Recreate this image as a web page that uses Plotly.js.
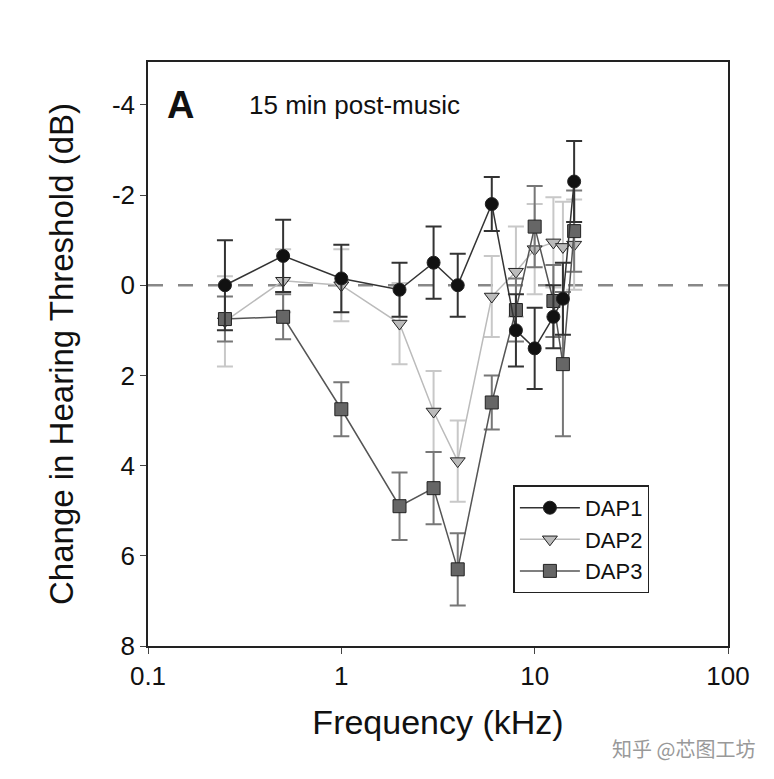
<!DOCTYPE html>
<html>
<head>
<meta charset="utf-8">
<script src="https://cdn.plot.ly/plotly-3.0.1.min.js"></script>
<style>body{margin:0;background:#fff}</style>
</head>
<body>
<div id="graph" style="width:774px;height:779px"></div>
<script>
let freq = [0.25, 0.5, 1, 2, 3, 4, 6, 8, 10, 12.5, 14, 16];
let dap1 = [0.0, -0.65, -0.15, 0.1, -0.5, 0.0, -1.8, 1.0, 1.4, 0.7, 0.3, -2.3];
let dap1Err = [1.0, 0.8, 0.75, 0.6, 0.8, 0.7, 0.6, 0.8, 0.9, 0.7, 0.8, 0.9];
let dap2 = [0.8, -0.1, 0.0, 0.85, 2.8, 3.9, 0.25, -0.3, -0.8, -0.95, -0.85, -0.9];
let dap2Err = [1.0, 0.7, 0.8, 0.9, 0.9, 0.9, 0.9, 1.0, 1.0, 1.0, 1.0, 1.0];
let dap3 = [0.75, 0.7, 2.75, 4.9, 4.5, 6.3, 2.6, 0.55, -1.3, 0.35, 1.75, -1.2];
let dap3Err = [0.5, 0.5, 0.6, 0.75, 0.8, 0.8, 0.6, 0.7, 0.9, 0.8, 1.6, 0.9];
let yTicks = [-4, -2, 0, 2, 4, 6, 8];
let yLabels = ["-4", "-2", "0", "2", "4", "6", "8"];

function series(y, err, name, mk, lineCol, mkCol, errCol) {
    return {
        x: freq,
        y: y,
        name: name,
        type: "scatter",
        mode: "lines+markers",
        line: {color: lineCol, width: 1.5},
        marker: {symbol: mk, size: 13, color: mkCol, line: {color: "#222", width: 1}},
        error_y: {type: "data", array: err, visible: true, color: errCol, thickness: 2, width: 8}
    };
}

let data = [
    series(dap2, dap2Err, "DAP2", "triangle-down", "#bbb", "#bbb", "#c8c8c8"),
    series(dap3, dap3Err, "DAP3", "square", "#555", "#666", "#777"),
    series(dap1, dap1Err, "DAP1", "circle", "#333", "#111", "#333")
];
data[0].legendrank = 2; data[1].legendrank = 3; data[2].legendrank = 1;

let layout = {
    width: 774,
    height: 779,
    margin: {l: 148, r: 46, t: 62, b: 133},
    font: {family: "Liberation Sans, Arial", color: "#111"},
    showlegend: true,
    legend: {
        x: 0.63, y: 0.275, xanchor: "left", yanchor: "top",
        bordercolor: "#222", borderwidth: 1.5, bgcolor: "#fff",
        font: {size: 22}, itemwidth: 60, tracegroupgap: 10
    },
    xaxis: {
        type: "log", range: [-1, 2],
        tickvals: [0.1, 1, 10, 100], ticktext: ["0.1", "1", "10", "100"],
        ticks: "outside", ticklen: 6, showgrid: false, zeroline: false,
        showline: true, mirror: true, linecolor: "#222", linewidth: 1.5,
        tickfont: {size: 26},
        title: {text: "Frequency (kHz)", font: {size: 34}, standoff: 20}
    },
    yaxis: {
        range: [8, -4.95],
        tickvals: yTicks, ticktext: yLabels,
        ticks: "outside", ticklen: 6, showgrid: false, zeroline: false,
        showline: true, mirror: true, linecolor: "#222", linewidth: 1.5,
        tickfont: {size: 26},
        title: {text: "Change in Hearing Threshold (dB)", font: {size: 33}, standoff: 28}
    },
    shapes: [{
        type: "line", xref: "paper", x0: 0, x1: 1, yref: "y", y0: 0, y1: 0,
        line: {color: "#888", width: 2.5, dash: "longdash"}, layer: "below"
    }],
    annotations: [
        {xref: "paper", yref: "paper", x: 0.03, y: 0.965, xanchor: "left", yanchor: "top",
         text: "<b>A</b>", showarrow: false, font: {size: 38, color: "#111"}},
        {xref: "paper", yref: "paper", x: 0.17, y: 0.955, xanchor: "left", yanchor: "top",
         text: "15 min post-music", showarrow: false, font: {size: 26, color: "#111"}},
        {xref: "paper", yref: "paper", x: 1.05, y: -0.175, xanchor: "right", yanchor: "middle",
         text: "知乎 @芯图工坊", showarrow: false, font: {size: 20, color: "#999", family: "Noto Sans CJK SC"}}
    ]
};

Plotly.newPlot("graph", data, layout, {displayModeBar: false});
</script>
</body>
</html>
